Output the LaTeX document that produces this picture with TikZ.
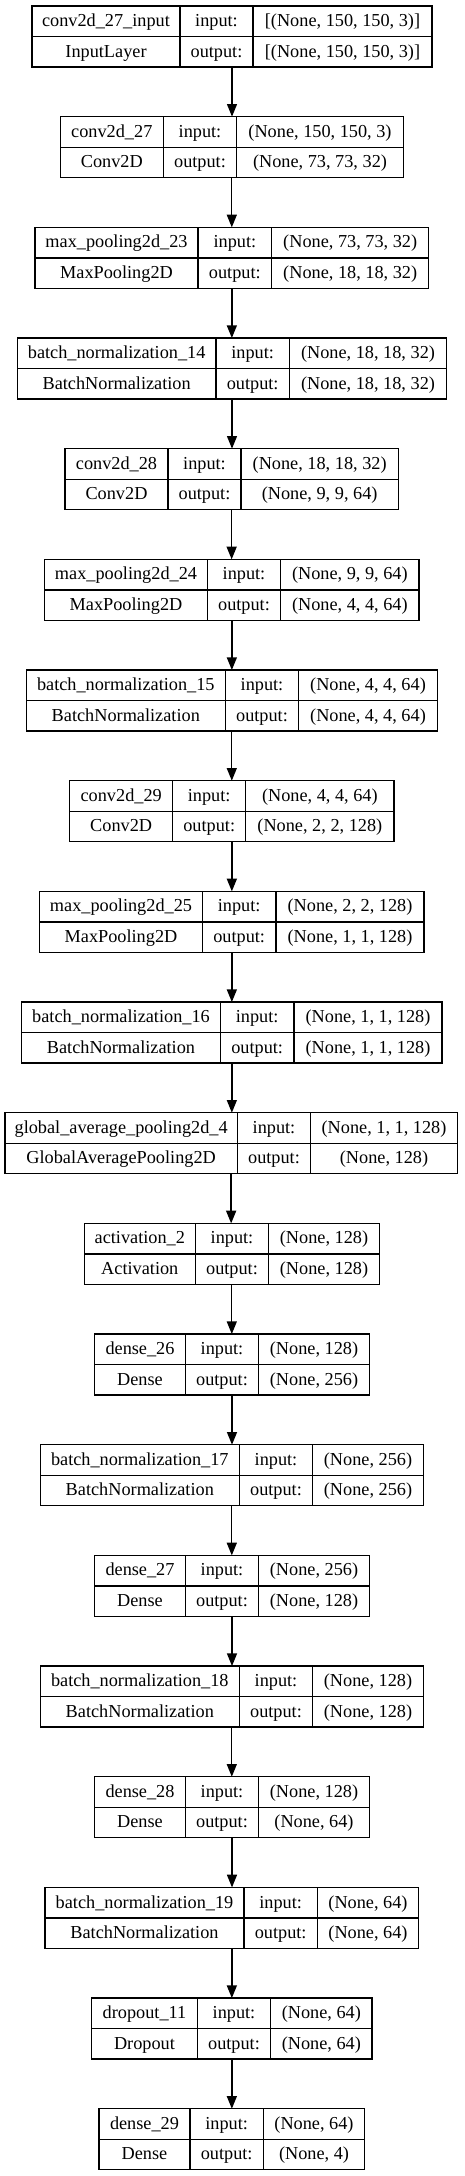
\documentclass[tikz,border=0pt]{standalone}
\usepackage{fontspec}
\setmainfont{Liberation Serif}
\usetikzlibrary{arrows.meta}
\tikzset{
  lbox/.style={draw=black, line width=1pt, inner sep=0pt, outer sep=0pt, minimum height=45.75pt},
  divln/.style={draw=black, line width=1pt},
  txt/.style={anchor=base, inner sep=0pt, font=\fontsize{13.7}{16}\selectfont},
  arr/.style={draw=black, line width=1pt, -{Triangle[length=9.5pt, width=7.5pt]}}
}
\newcommand\lay[9]{%
  \pgfmathsetmacro\yt{6+#1*110.67}%
  \pgfmathsetmacro\ym{\yt+30.5}%
  \pgfmathsetmacro\yb{\yt+61}%
  \pgfmathsetmacro\ya{\yt+20.6}%
  \pgfmathsetmacro\yc{\ym+20.6}%
  \node[lbox, minimum width={(#5-#2)*0.75pt}] (b#1) at ({(#2+#5)/2},{\ym}) {};
  \draw[divln] (#3,\yt) -- (#3,\yb);
  \draw[divln] (#4,\yt) -- (#4,\yb);
  \draw[divln] (#2,\ym) -- (#5,\ym);
  \node[txt] (b#1n) at ({(#2+#3)/2},\ya) {#6};
  \node[txt] (b#1c) at ({(#2+#3)/2},\yc) {#7};
  \node[txt] (b#1i) at ({(#3+#4)/2},\ya) {input:};
  \node[txt] (b#1o) at ({(#3+#4)/2},\yc) {output:};
  \node[txt] (b#1x) at ({(#4+#5)/2},\ya) {#8};
  \node[txt] (b#1y) at ({(#4+#5)/2},\yc) {#9};
}
\begin{document}
\begin{tikzpicture}[x=0.75pt, y=-0.75pt]
\useasboundingbox (0,0) rectangle (464,2176);
\lay{0}{32}{180}{253}{432}{conv2d\_27\_input}{InputLayer}{[(None, 150, 150, 3)]}{[(None, 150, 150, 3)]}
\lay{1}{60.3}{163.3}{236.7}{403.3}{conv2d\_27}{Conv2D}{(None, 150, 150, 3)}{(None, 73, 73, 32)}
\lay{2}{35}{198}{271.7}{428.7}{max\_pooling2d\_23}{MaxPooling2D}{(None, 73, 73, 32)}{(None, 18, 18, 32)}
\lay{3}{17.3}{216}{289.3}{446.7}{batch\_normalization\_14}{BatchNormalization}{(None, 18, 18, 32)}{(None, 18, 18, 32)}
\lay{4}{65}{168}{241}{398.3}{conv2d\_28}{Conv2D}{(None, 18, 18, 32)}{(None, 9, 9, 64)}
\lay{5}{44.7}{207.3}{280.7}{419}{max\_pooling2d\_24}{MaxPooling2D}{(None, 9, 9, 64)}{(None, 4, 4, 64)}
\lay{6}{26.3}{225.3}{298.7}{437.3}{batch\_normalization\_15}{BatchNormalization}{(None, 4, 4, 64)}{(None, 4, 4, 64)}
\lay{7}{69.7}{172.7}{245.7}{394}{conv2d\_29}{Conv2D}{(None, 4, 4, 64)}{(None, 2, 2, 128)}
\lay{8}{39.7}{202.3}{276}{424}{max\_pooling2d\_25}{MaxPooling2D}{(None, 2, 2, 128)}{(None, 1, 1, 128)}
\lay{9}{21.7}{220.3}{294}{442}{batch\_normalization\_16}{BatchNormalization}{(None, 1, 1, 128)}{(None, 1, 1, 128)}
\lay{10}{5}{237.3}{310.7}{457.3}{global\_average\_pooling2d\_4}{GlobalAveragePooling2D}{(None, 1, 1, 128)}{(None, 128)}
\lay{11}{84.3}{195.3}{268.7}{379.3}{activation\_2}{Activation}{(None, 128)}{(None, 128)}
\lay{12}{94.7}{185.3}{258.7}{369.3}{dense\_26}{Dense}{(None, 128)}{(None, 256)}
\lay{13}{40.3}{239.3}{312.7}{423.3}{batch\_normalization\_17}{BatchNormalization}{(None, 256)}{(None, 256)}
\lay{14}{94.7}{185.3}{258.7}{369.3}{dense\_27}{Dense}{(None, 256)}{(None, 128)}
\lay{15}{40.3}{239.3}{312.7}{423.3}{batch\_normalization\_18}{BatchNormalization}{(None, 128)}{(None, 128)}
\lay{16}{94.7}{185.3}{258.7}{369.3}{dense\_28}{Dense}{(None, 128)}{(None, 64)}
\lay{17}{45}{244}{317.3}{418.7}{batch\_normalization\_19}{BatchNormalization}{(None, 64)}{(None, 64)}
\lay{18}{91.7}{197.3}{270.7}{372}{dropout\_11}{Dropout}{(None, 64)}{(None, 64)}
\lay{19}{99}{190}{263.3}{364.7}{dense\_29}{Dense}{(None, 64)}{(None, 4)}
\foreach \i [evaluate=\i as \j using int(\i+1)] in {0,...,18} {
  \draw[arr] (b\i.south) -- (b\i.south |- b\j.north);
}
\end{tikzpicture}
\end{document}
